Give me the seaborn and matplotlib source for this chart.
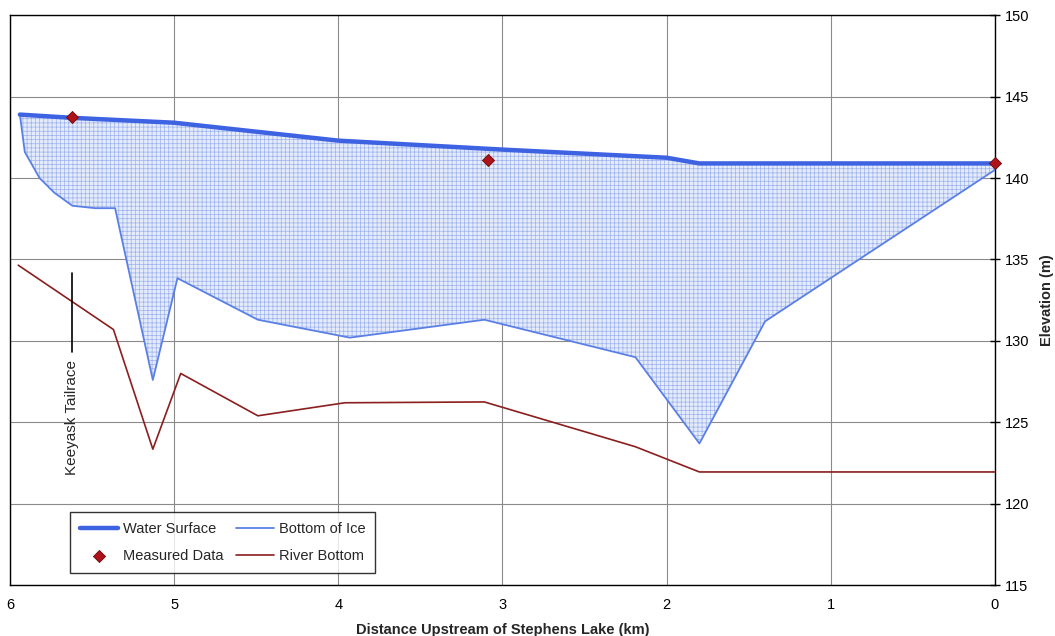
import pandas as pd
import matplotlib.pyplot as plt
import seaborn as sns

# Profile data (distance in km upstream, elevation in m)
ws_km = [5.94, 5.62, 5.00, 4.00, 3.00, 2.00, 1.80, 0.00]
ws_elev = [143.9, 143.7, 143.4, 142.3, 141.75, 141.25, 140.9, 140.9]

ice_km = [5.94, 5.91, 5.82, 5.73, 5.62, 5.48, 5.36, 5.13, 4.98, 4.49, 3.93, 3.11, 2.19, 1.80, 1.40, 0.00]
ice_elev = [143.9, 141.6, 140.0, 139.1, 138.3, 138.15, 138.15, 127.6, 133.85, 131.3, 130.2, 131.3, 129.0, 123.7, 131.2, 140.5]

bed_km = [5.95, 5.37, 5.13, 4.96, 4.49, 3.96, 3.11, 2.19, 1.80, 0.00]
bed_elev = [134.65, 130.7, 123.35, 128.0, 125.4, 126.2, 126.25, 123.5, 121.95, 121.95]

meas_km = [5.62, 3.09, 0.00]
meas_elev = [143.75, 141.1, 140.95]

ws = pd.DataFrame({"km": ws_km, "elev": ws_elev})
ice = pd.DataFrame({"km": ice_km, "elev": ice_elev})
bed = pd.DataFrame({"km": bed_km, "elev": bed_elev})
meas = pd.DataFrame({"km": meas_km, "elev": meas_elev})

sns.set_style("white")
plt.rcParams['font.family'] = ['Liberation Sans', 'DejaVu Sans']
plt.rcParams['hatch.color'] = '#9db2ee'
plt.rcParams['hatch.linewidth'] = 0.5

fig = plt.figure(figsize=(10.55, 6.36), dpi=100)
ax = fig.add_axes([0.0095, 0.080, 0.9335, 0.896])

# ice cover shaded between water surface and bottom of ice
grid_km = sorted(set(ice_km) | set(ws_km))
ws_s = pd.Series(ws_elev[::-1], index=ws_km[::-1]).reindex(grid_km).interpolate(method="index")
ice_s = pd.Series(ice_elev[::-1], index=ice_km[::-1]).reindex(grid_km).interpolate(method="index")
ax.fill_between(grid_km, ice_s.values, ws_s.values,
                facecolor='#e4ebfa', edgecolor='#9db2ee', hatch='++++', linewidth=0, zorder=2)

sns.lineplot(data=ice, x="km", y="elev", sort=False, color='#5a7fe6', lw=1.3,
             label="Bottom of Ice", ax=ax, zorder=3)
sns.lineplot(data=bed, x="km", y="elev", sort=False, color='#8b1e1e', lw=1.2,
             label="River Bottom", ax=ax, zorder=3)
sns.lineplot(data=ws, x="km", y="elev", sort=False, color='#3d62e2', lw=3.2,
             label="Water Surface", ax=ax, zorder=4)
sns.scatterplot(data=meas, x="km", y="elev", marker='D', s=38, color='#b0121a',
                edgecolor='#6a0a0a', linewidth=0.6, label="Measured Data", ax=ax,
                zorder=5, clip_on=False)

# Keeyask Tailrace marker
ax.plot([5.62, 5.62], [134.2, 129.3], color='black', lw=1.2, zorder=3)
ax.text(5.62, 128.8, "Keeyask Tailrace", rotation=90, ha='center', va='top', fontsize=11)

ax.set_xlim(6, 0)
ax.set_ylim(115, 150)
ax.set_xticks(range(0, 7))
ax.set_yticks(range(115, 151, 5))
ax.grid(True, color='#8a8a8a', lw=0.8, zorder=0)
ax.set_axisbelow(True)
for s in ax.spines.values():
    s.set_color('black')
    s.set_linewidth(1.0)

ax.yaxis.tick_right()
ax.yaxis.set_label_position("right")
ax.tick_params(axis='both', direction='inout', length=7, width=1, labelsize=10.5, colors='black')
ax.tick_params(axis='x', pad=6)
ax.set_xlabel("Distance Upstream of Stephens Lake (km)", fontsize=10.5, fontweight='bold', labelpad=8)
ax.set_ylabel("Elevation (m)", fontsize=10.5, fontweight='bold', labelpad=8)

handles, labels = ax.get_legend_handles_labels()
order = ["Water Surface", "Measured Data", "Bottom of Ice", "River Bottom"]
hmap = dict(zip(labels, handles))
leg = ax.legend([hmap[k] for k in order], order, ncol=2, loc='lower left',
                bbox_to_anchor=(0.061, 0.021, 0.31, 0.098), mode='expand',
                frameon=True, fancybox=False, edgecolor='black', fontsize=10.5,
                handlelength=2.6, handletextpad=0.3, borderaxespad=0, borderpad=0.7,
                labelspacing=0.9, columnspacing=3.0)
leg.get_frame().set_linewidth(1.0)

fig.savefig("out.png", dpi=100, facecolor='white')
